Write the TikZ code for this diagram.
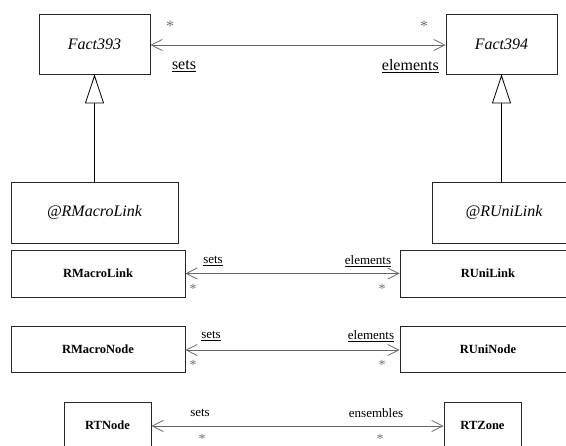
\documentclass[tikz,border=0pt]{standalone}
\usepackage{fontspec}
\setmainfont{Liberation Serif}
\usetikzlibrary{arrows.meta}
\definecolor{lgray}{HTML}{666666}
\definecolor{sgray}{HTML}{707070}
\tikzset{
  cls/.style={draw=black!85, line width=0.9pt, rectangle, inner sep=0pt, font=\fontsize{12.5}{14}\selectfont\bfseries},
  abst/.style={draw=black!85, line width=0.9pt, rectangle, inner sep=0pt, font=\fontsize{16}{18}\selectfont\itshape},
  assoc/.style={draw=lgray, line width=0.8pt, {Straight Barb[length=11pt,width=11pt]}-{Straight Barb[length=11pt,width=11pt]}},
  gen/.style={draw=black, line width=0.8pt, -{Triangle[open,length=29pt,width=19pt,fill=white]}},
  biglbl/.style={font=\fontsize{16}{18}\selectfont, inner sep=0pt},
  lbl/.style={font=\fontsize{13}{15}\selectfont, inner sep=0pt},
  star/.style={font=\fontsize{14}{16}\selectfont, text=sgray, inner sep=0pt},
  bigstar/.style={font=\fontsize{16}{18}\selectfont, text=sgray, inner sep=0pt}
}
\begin{document}
\begin{tikzpicture}[x=1pt,y=-1pt]
\useasboundingbox (0,0) rectangle (566,446);
\clip (0,0) rectangle (566,446);
% top classes
\node[abst, minimum width=111pt, minimum height=60pt] (f393) at (94.5,44) {Fact393};
\node[abst, minimum width=111pt, minimum height=60pt] (f394) at (501.5,44) {Fact394};
% annotation classes
\node[abst, minimum width=167pt, minimum height=61pt] (arml) at (94.5,212.5) {@RMacroLink};
\node[abst, minimum width=144pt, minimum height=61pt] (arul) at (504,212.5) {@RUniLink};
% link classes
\node[cls, minimum width=174pt, minimum height=47pt] (rml) at (98,273.5) {RMacroLink};
\node[cls, minimum width=176pt, minimum height=47pt] (rul) at (488,273.5) {RUniLink};
\node[cls, minimum width=174pt, minimum height=46pt] (rmn) at (98,349) {RMacroNode};
\node[cls, minimum width=176pt, minimum height=46pt] (run) at (488,349) {RUniNode};
\node[cls, minimum width=87pt, minimum height=46pt] (rtn) at (107.5,425) {RTNode};
\node[cls, minimum width=77pt, minimum height=46pt] (rtz) at (482.5,425) {RTZone};
% generalizations
\draw[gen] (arml.north) -- (f393.south);
\draw[gen] (arul.north -| f394.south) -- (f394.south);
% associations
\draw[assoc] (f393.east |- 0,45) -- (f394.west |- 0,45);
\draw[assoc] (rml.east) -- (rul.west);
\draw[assoc] (rmn.east |- 0,350) -- (run.west |- 0,350);
\draw[assoc] (rtn.east |- 0,426) -- (rtz.west |- 0,426);
% labels top
\node[bigstar] (s1) at (170,26) {*};
\node[bigstar] (s2) at (424,26) {*};
\node[biglbl] (l1) at (184,66) {\underline{sets}};
\node[biglbl, anchor=east] (l2) at (439,66) {\underline{elements}};
% labels link
\node[lbl] (l3) at (213,261) {\underline{sets}};
\node[lbl] (l4) at (368,261) {\underline{elements}};
\node[star] (s3) at (193,289) {*};
\node[star] (s4) at (382,289) {*};
% labels node
\node[lbl] (l5) at (211,336) {\underline{sets}};
\node[lbl] (l6) at (371,336) {\underline{elements}};
\node[star] (s5) at (193,365) {*};
\node[star] (s6) at (382,365) {*};
% labels RT
\node[lbl] (l7) at (200,413) {sets};
\node[lbl] (l8) at (376,413) {ensembles};
\node[star] (s7) at (202,439) {*};
\node[star] (s8) at (380,439) {*};
\end{tikzpicture}
\end{document}
